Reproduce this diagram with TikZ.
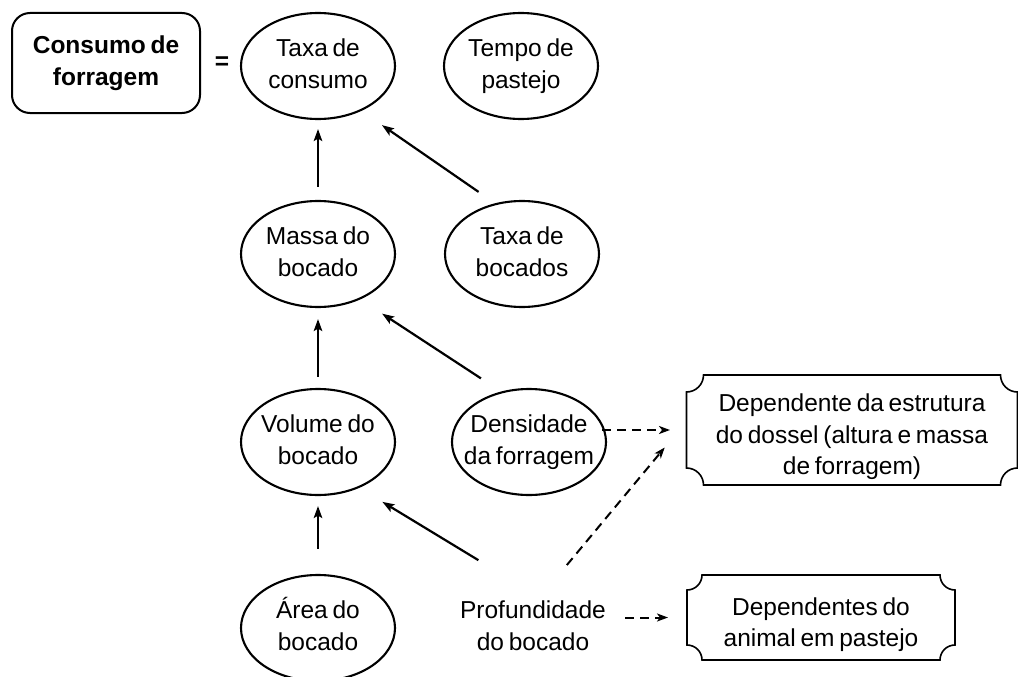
\documentclass[tikz,border=0pt]{standalone}
\usepackage{fontspec}
\setmainfont{Liberation Sans}[WordSpace=0.7]
\usetikzlibrary{shapes.geometric,arrows.meta}
\newcommand\plaquebox[2]{%
  \draw[plaqueline] ([yshift=-#2]#1.north west) arc[start angle=-90,end angle=0,radius=#2]
    -- ([xshift=-#2]#1.north east) arc[start angle=180,end angle=270,radius=#2]
    -- ([yshift=#2]#1.south east) arc[start angle=90,end angle=180,radius=#2]
    -- ([xshift=#2]#1.south west) arc[start angle=0,end angle=90,radius=#2] -- cycle;}
\newcommand\tx[1]{\makebox[0pt]{\begin{tabular}{@{}c@{}}#1\end{tabular}}}
\begin{document}
\begin{tikzpicture}[x=1pt,y=1pt,
  every node/.style={font=\fontsize{24.5}{31.5}\selectfont, align=center},
  oval/.style={ellipse, draw, line width=2.1pt, minimum width=154pt, minimum height=106pt, inner sep=0pt},
  ghost/.style={ellipse, minimum width=154pt, minimum height=106pt, inner sep=0pt},
  plaquenode/.style={rectangle, inner sep=0pt, outer sep=0pt},
  plaqueline/.style={line width=1.6pt},
  startbox/.style={rectangle, draw, line width=2pt, rounded corners=18pt, minimum width=188pt, minimum height=100pt, inner sep=0pt},
  arr/.style={line width=2.2pt, -{Stealth[length=12pt,width=8.5pt,inset=2.5pt]}},
  darr/.style={line width=2pt, dash pattern=on 9pt off 6pt, -{Stealth[length=11pt,width=8pt,inset=3pt]}}]
\useasboundingbox (0,0) rectangle (1018,-677);

\node[startbox] (cf) at (106,-63) {\textbf{Consumo de}\\\textbf{forragem}};
\node (eq) at (222,-63) {\textbf{=}};
\node[oval] (tc) at (318,-66) {\tx{Taxa de\\consumo}};
\node[oval] (tp) at (521,-66) {\tx{Tempo de\\pastejo}};
\node[oval] (mb) at (318,-254) {\tx{Massa do\\bocado}};
\node[oval] (tb) at (522,-254) {\tx{Taxa de\\bocados}};
\node[oval] (vb) at (318,-442) {\tx{Volume do\\bocado}};
\node[oval] (df) at (529,-442) {\tx{Densidade\\da forragem}};
\node[oval] (ab) at (318,-628) {\tx{Área do\\bocado}};
\node[ghost] (pb) at (533,-628) {\tx{Profundidade\\do bocado}};

\node[plaquenode, minimum width=331pt, minimum height=110pt] (dep) at (852,-430) {\tx{\rule{0pt}{36pt}Dependente da estrutura\\do dossel (altura e massa\\de forragem)}};
\plaquebox{dep}{17pt}
\node[plaquenode, minimum width=268pt, minimum height=85pt] (dan) at (821,-617.5) {\tx{\rule{0pt}{36pt}Dependentes do\\animal em pastejo}};
\plaquebox{dan}{15pt}

\draw[arr, shorten <=13pt, shorten >=9pt] (mb.north) -- (tc.south);
\draw[arr, shorten <=20pt, shorten >=25pt] (tb.118) -- (tc.-46);
\draw[arr, shorten <=11pt, shorten >=11pt] (vb.north) -- (mb.south);
\draw[arr, shorten <=24pt, shorten >=26pt] (df.119) -- (mb.-47);
\draw[arr, shorten <=25pt, shorten >=10pt] (ab.north) -- (vb.south);
\draw[arr, shorten <=34pt, shorten >=27pt] (pb.117) -- (vb.-48);

\draw[darr, shorten <=-5pt, shorten >=16.5pt] (df.east |- dep.west) -- (dep.west);
\draw[darr, shorten <=16pt, shorten >=34pt] (pb.65) -- (dep.177);
\draw[darr, shorten <=15pt, shorten >=19pt] (pb.east |- dan.west) -- (dan.west);
\end{tikzpicture}
\end{document}
